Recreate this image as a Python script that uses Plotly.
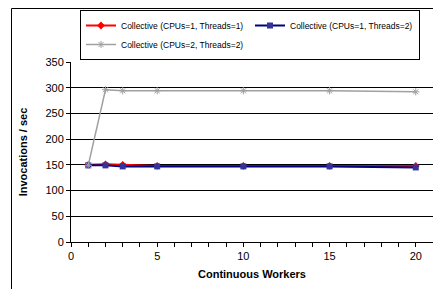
import plotly.graph_objects as go

workers = [1, 2, 3, 5, 10, 15, 20]
s1_name = "Collective (CPUs=1, Threads=1)"
s1 = [150, 151, 150, 148, 148, 148, 148]
s2_name = "Collective (CPUs=1, Threads=2)"
s2 = [149, 149, 147, 147, 147, 147, 145]
s3_name = "Collective (CPUs=2, Threads=2)"
s3 = [149, 296, 294, 294, 294, 294, 292]
x_ticks = [0, 5, 10, 15, 20]
y_ticks = [0, 50, 100, 150, 200, 250, 300, 350]

fig = go.Figure()
fig.add_trace(go.Scatter(x=workers, y=s1, name=s1_name, mode="lines+markers",
                         line=dict(color="#ff0000", width=2),
                         marker=dict(symbol="diamond", size=6, color="#ff0000")))
fig.add_trace(go.Scatter(x=workers, y=s2, name=s2_name, mode="lines+markers",
                         line=dict(color="#000080", width=2),
                         marker=dict(symbol="square", size=6, color="#333399")))
fig.add_trace(go.Scatter(x=workers, y=s3, name=s3_name, mode="lines+markers",
                         line=dict(color="#a0a0a0", width=1.5),
                         marker=dict(symbol="asterisk-open", size=6,
                                     line=dict(color="#909090", width=1))))

# page has an 8px body margin, so the figure is sized to fit the window
OFF = 8
W, H = 441 - OFF, 289 - OFF
L, T = 71 - OFF, 62 - OFF
R = W - (433 - OFF)
B = H - (242 - OFF)
pw, ph = W - L - R, H - T - B

fig.update_layout(
    width=W, height=H,
    margin=dict(l=L, r=R, t=T, b=B, autoexpand=False),
    paper_bgcolor="white", plot_bgcolor="white",
    font=dict(family="Liberation Sans, Arial, sans-serif", color="black", size=11),
    showlegend=True,
    legend=dict(orientation="h", x=(80 - 71) / pw, y=(242 - 10) / ph,
                xanchor="left", yanchor="top",
                bordercolor="black", borderwidth=1,
                font=dict(size=8.5), itemwidth=30,
                entrywidth=124, entrywidthmode="pixels",
                tracegroupgap=0, bgcolor="white"),
    xaxis=dict(range=[0, 21], tickvals=x_ticks, ticks="outside", ticklen=4,
               tickcolor="black", showline=True, linecolor="black", linewidth=1,
               showgrid=False, zeroline=False, automargin=False,
               minor=dict(dtick=1, ticks="outside", ticklen=4, tickcolor="black"),
               title=dict(text="<b>Continuous Workers</b>", font=dict(size=11), standoff=9)),
    yaxis=dict(range=[0, 350], tickvals=y_ticks, ticks="outside", ticklen=4,
               tickcolor="black", showline=True, linecolor="black", linewidth=1,
               mirror=True, showgrid=True, gridcolor="black", gridwidth=1,
               zeroline=False, automargin=False,
               title=dict(text="<b>Invocations / sec</b>", font=dict(size=11))),
)

# outer chart frame (cropped at right and bottom)
fig.add_shape(type="rect", xref="paper", yref="paper",
              x0=(11.5 - 71) / pw, x1=(441 + 20 - 71) / pw,
              y0=-(289 + 20 - 242) / ph, y1=(242 - 8.5) / ph,
              line=dict(color="black", width=1), fillcolor="rgba(0,0,0,0)", layer="below")

fig.write_html("out.html")
